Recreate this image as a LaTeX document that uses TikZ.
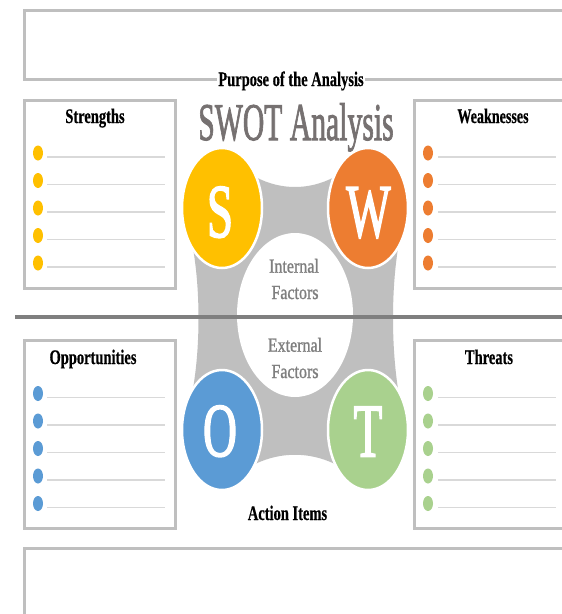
\documentclass[tikz,border=0pt]{standalone}
\usepackage{fontspec}
\setmainfont{Liberation Serif}
\newfontfamily\titlefont{Liberation Serif}[FakeBold=2]
\newfontfamily\letterfont{Liberation Serif}[FakeBold=2.5]
\newfontfamily\factfont{Liberation Serif}[FakeBold=1.2]
\newfontfamily\hdrfont{Liberation Serif Bold}[FakeBold=0.6]
\usepackage{graphicx}
\usetikzlibrary{shapes.geometric}
\definecolor{boxgray}{HTML}{BFBFBF}
\definecolor{rulegray}{HTML}{7F7F7F}
\definecolor{linegray}{HTML}{D9D9D9}
\definecolor{conngray}{HTML}{BFBFBF}
\definecolor{swotS}{HTML}{FFC000}
\definecolor{swotW}{HTML}{ED7D31}
\definecolor{swotO}{HTML}{5B9BD5}
\definecolor{swotT}{HTML}{A9D18E}
\definecolor{titlegray}{HTML}{767171}
\definecolor{factgray}{HTML}{7F7F7F}
\newcommand{\hx}[2]{\scalebox{#1}[1]{#2}}
\begin{document}
\begin{tikzpicture}[x=1pt,y=-1pt,
  panel/.style={draw=boxgray, line width=3pt},
  hdr/.style={font=\fontsize{20.7pt}{24pt}\hdrfont, text=black, inner sep=0pt, anchor=base},
  fact/.style={font=\fontsize{20pt}{24pt}\factfont, text=factgray, inner sep=0pt, anchor=base},
  letter/.style={font=\fontsize{76pt}{80pt}\letterfont, text=white, inner sep=0pt, anchor=base},
  blob/.style={ellipse, minimum width=80pt, minimum height=120pt, inner sep=0pt, draw=white, line width=2.5pt},
  bullet/.style={ellipse, minimum width=10pt, minimum height=15pt, inner sep=0pt},
  rowline/.style={draw=linegray, line width=1.5pt}
]
\useasboundingbox (0,0) rectangle (562,614);
\clip (0,0) rectangle (562,614);
\fill[white] (0,0) rectangle (562,614);

% panels
\draw[panel] (24.5,10) rectangle (620,79);
\draw[panel] (24.5,100.5) rectangle (175.5,288.5);
\draw[panel] (414.5,100.5) rectangle (620,288.5);
\draw[panel] (24.5,340.5) rectangle (175.5,528.5);
\draw[panel] (414.5,340.5) rectangle (620,528.5);
\draw[panel] (24.5,548.5) rectangle (620,700);

\node[hdr, fill=white, inner xsep=1.5pt] (purpose) at (291,86) {\hx{0.70}{Purpose of the Analysis}};

% headers
\node[hdr] (hS) at (95,123) {\hx{0.70}{Strengths}};
\node[hdr] (hW) at (493,123) {\hx{0.68}{Weaknesses}};
\node[hdr] (hO) at (93,364) {\hx{0.70}{Opportunities}};
\node[hdr] (hT) at (489,364) {\hx{0.70}{Threats}};

% bullets and lines
\foreach \i in {0,...,4} {
  \pgfmathsetmacro{\yt}{153+27.5*\i}
  \pgfmathsetmacro{\yb}{393.5+27.5*\i}
  \node[bullet, fill=swotS] at (38,\yt) {};
  \draw[rowline] (47,\yt+4) -- (165,\yt+4);
  \node[bullet, fill=swotW] at (428,\yt) {};
  \draw[rowline] (438,\yt+4) -- (556,\yt+4);
  \node[bullet, fill=swotO] at (38,\yb) {};
  \draw[rowline] (47,\yb+4) -- (165,\yb+4);
  \node[bullet, fill=swotT] at (428,\yb) {};
  \draw[rowline] (438,\yb+4) -- (556,\yb+4);
}

% title
\node[font=\fontsize{53pt}{56pt}\titlefont, text=titlegray, inner sep=0pt, anchor=base] (title) at (296,140) {\hx{0.56}{SWOT Analysis}};

% gray connector shape
\fill[conngray] (222,208) -- (222,148) .. controls (262,200) and (328,200) .. (368,148)
  -- (368,208) -- (408,208) .. controls (388,260) and (388,376) .. (408,430)
  -- (368,430) -- (368,490) .. controls (328,443) and (262,443) .. (222,490)
  -- (222,430) -- (182,430) .. controls (204,376) and (204,260) .. (182,208) -- cycle;
\fill[white] (295,315) ellipse [x radius=58, y radius=82];

% dividing rule
\draw[rulegray, line width=3.5pt] (15,317) -- (570,317);

% circles
\node[blob, fill=swotS] (S) at (222,208) {};
\node[blob, fill=swotW] (W) at (368,208) {};
\node[blob, fill=swotO] (O) at (222,430) {};
\node[blob, fill=swotT] (T) at (368,430) {};
\node[letter] at (220,237) {\hx{0.62}{S}};
\node[letter] at (368.5,237) {\hx{0.62}{W}};
\node[letter] at (220,456) {\hx{0.62}{O}};
\node[letter] at (368,456.5) {\hx{0.62}{T}};

% factors
\node[fact] at (294,272.7) {\hx{0.8}{Internal}};
\node[fact] at (295,299) {\hx{0.8}{Factors}};
\node[fact] at (295,351.7) {\hx{0.8}{External}};
\node[fact] at (295,378) {\hx{0.8}{Factors}};

\node[hdr] (action) at (287.5,520) {\hx{0.70}{Action Items}};
\end{tikzpicture}
\end{document}
